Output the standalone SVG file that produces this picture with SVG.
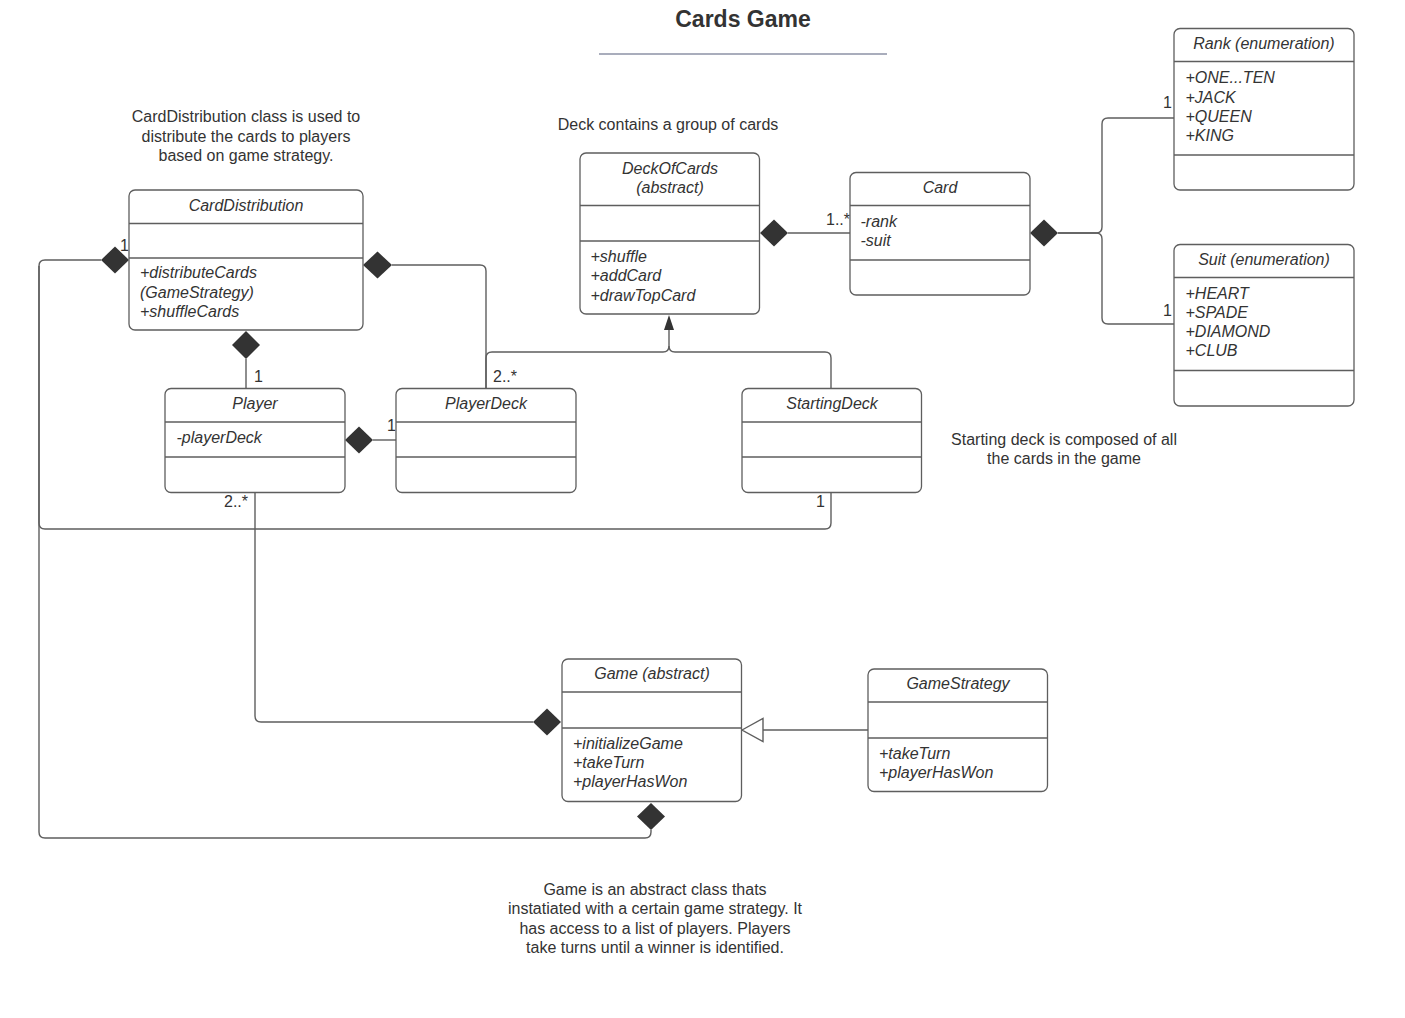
<svg xmlns="http://www.w3.org/2000/svg" width="1405" height="1018" viewBox="0 0 1405 1018">
<style>
text{font-family:"Liberation Sans",Arial,sans-serif;font-size:16px;fill:#333333}
.i{font-style:italic}
.c{text-anchor:middle}
.box{fill:#ffffff;stroke:#5e5e5e;stroke-width:1.3}
.div{stroke:#5e5e5e;stroke-width:1.3}
.ln{fill:none;stroke:#5e5e5e;stroke-width:1.4}
.dm{fill:#333333;stroke:none}
.title{font-size:23px;font-weight:bold}
</style>
<rect width="1405" height="1018" fill="#ffffff"/>
<g id="title">
<text class="c title" x="743" y="27">Cards Game</text>
<line x1="599" y1="54" x2="887" y2="54" stroke="#a9adbc" stroke-width="1.8"/>
</g>
<g id="notes">
<text class="c" x="246" y="122">CardDistribution class is used to</text>
<text class="c" x="246" y="141.5">distribute the cards to players</text>
<text class="c" x="246" y="161">based on game strategy.</text>
<text class="c" x="668" y="130">Deck contains a group of cards</text>
<text class="c" x="1064" y="444.5">Starting deck is composed of all</text>
<text class="c" x="1064" y="464">the cards in the game</text>
<text class="c" x="655" y="894.5">Game is an abstract class thats</text>
<text class="c" x="655" y="914">instatiated with a certain game strategy. It</text>
<text class="c" x="655" y="933.5">has access to a list of players. Players</text>
<text class="c" x="655" y="953">take turns until a winner is identified.</text>
</g>
<g id="connectors">
<path class="ln" d="M101,260 H45 Q39,260 39,266 V523 Q39,529 45,529 H825 Q831,529 831,523 V492"/>
<path class="ln" d="M651,830 V832 Q651,838 645,838 H45 Q39,838 39,832 V266"/>
<path class="ln" d="M246,359 V388"/>
<path class="ln" d="M392,265 H480 Q486,265 486,271 V388"/>
<path class="ln" d="M486,388 V358 Q486,352 492,352 H663 Q669,352 669,346 V330"/>
<path class="ln" d="M831,388 V358 Q831,352 825,352 H675 Q669,352 669,346"/>
<polygon class="dm" points="669,315 674,330 664,330"/>
<path class="ln" d="M373,440 H396"/>
<path class="ln" d="M788,233 H850"/>
<path class="ln" d="M1058,233 H1096 Q1102,233 1102,227 V124 Q1102,118 1108,118 H1174"/>
<path class="ln" d="M1058,233 H1096 Q1102,233 1102,239 V318 Q1102,324 1108,324 H1174"/>
<path class="ln" d="M255,492 V716 Q255,722 261,722 H533"/>
<path class="ln" d="M868,730 H763"/>
<polygon points="742,730 763,718.5 763,741.5" fill="#ffffff" stroke="#5e5e5e" stroke-width="1.4"/>
<polygon class="dm" points="101,260 115,246.5 129,260 115,273.5"/>
<polygon class="dm" points="363,265 377.5,251.5 392,265 377.5,278.5"/>
<polygon class="dm" points="246,331 260,345 246,359 232,345"/>
<polygon class="dm" points="345,440 359,426.5 373,440 359,453.5"/>
<polygon class="dm" points="760,233 774,219.5 788,233 774,246.5"/>
<polygon class="dm" points="1030,233 1044,219.5 1058,233 1044,246.5"/>
<polygon class="dm" points="533,722 547,708.5 561,722 547,735.5"/>
<polygon class="dm" points="651,803 665,816.5 651,830 637,816.5"/>
<text x="120" y="250.5">1</text>
<text x="254" y="381.5">1</text>
<text x="493" y="381.5">2..*</text>
<text x="387" y="430.5">1</text>
<text x="224" y="506.5">2..*</text>
<text x="816" y="506.5">1</text>
<text x="826" y="224.5">1..*</text>
<text x="1163" y="108">1</text>
<text x="1163" y="315.5">1</text>
</g>
<g id="CardDistribution">
<rect class="box" x="129" y="190" width="234" height="140" rx="6"/>
<line class="div" x1="129" y1="223.5" x2="363" y2="223.5"/>
<line class="div" x1="129" y1="258" x2="363" y2="258"/>
<text class="i c" x="246" y="210.5">CardDistribution</text>
<text class="i" x="140" y="278">+distributeCards</text>
<text class="i" x="140" y="297.5">(GameStrategy)</text>
<text class="i" x="140" y="316.5">+shuffleCards</text>
</g>
<g id="DeckOfCards">
<rect class="box" x="580" y="153" width="179.5" height="161" rx="6"/>
<line class="div" x1="580" y1="205.5" x2="759.5" y2="205.5"/>
<line class="div" x1="580" y1="241" x2="759.5" y2="241"/>
<text class="i c" x="670" y="173.5">DeckOfCards</text>
<text class="i c" x="670" y="192.5">(abstract)</text>
<text class="i" x="590.5" y="262">+shuffle</text>
<text class="i" x="590.5" y="281">+addCard</text>
<text class="i" x="590.5" y="300.5">+drawTopCard</text>
</g>
<g id="Card">
<rect class="box" x="850" y="172.5" width="180" height="122.5" rx="6"/>
<line class="div" x1="850" y1="205.5" x2="1030" y2="205.5"/>
<line class="div" x1="850" y1="260" x2="1030" y2="260"/>
<text class="i c" x="940" y="192.5">Card</text>
<text class="i" x="860.5" y="227">-rank</text>
<text class="i" x="860.5" y="246">-suit</text>
</g>
<g id="Rank">
<rect class="box" x="1174" y="28.5" width="180" height="161.5" rx="6"/>
<line class="div" x1="1174" y1="61.5" x2="1354" y2="61.5"/>
<line class="div" x1="1174" y1="155" x2="1354" y2="155"/>
<text class="i c" x="1264" y="49">Rank (enumeration)</text>
<text class="i" x="1185.5" y="83">+ONE...TEN</text>
<text class="i" x="1185.5" y="102.5">+JACK</text>
<text class="i" x="1185.5" y="121.5">+QUEEN</text>
<text class="i" x="1185.5" y="140.5">+KING</text>
</g>
<g id="Suit">
<rect class="box" x="1174" y="244.5" width="180" height="161.5" rx="6"/>
<line class="div" x1="1174" y1="277.5" x2="1354" y2="277.5"/>
<line class="div" x1="1174" y1="370.5" x2="1354" y2="370.5"/>
<text class="i c" x="1264" y="265">Suit (enumeration)</text>
<text class="i" x="1185.5" y="298.5">+HEART</text>
<text class="i" x="1185.5" y="317.5">+SPADE</text>
<text class="i" x="1185.5" y="337">+DIAMOND</text>
<text class="i" x="1185.5" y="356">+CLUB</text>
</g>
<g id="Player">
<rect class="box" x="165" y="388.5" width="180" height="104" rx="6"/>
<line class="div" x1="165" y1="422" x2="345" y2="422"/>
<line class="div" x1="165" y1="457" x2="345" y2="457"/>
<text class="i c" x="255" y="409">Player</text>
<text class="i" x="176.5" y="443">-playerDeck</text>
</g>
<g id="PlayerDeck">
<rect class="box" x="396" y="388.5" width="180" height="104" rx="6"/>
<line class="div" x1="396" y1="422" x2="576" y2="422"/>
<line class="div" x1="396" y1="457" x2="576" y2="457"/>
<text class="i c" x="486" y="409">PlayerDeck</text>
</g>
<g id="StartingDeck">
<rect class="box" x="742" y="388.5" width="179.5" height="104" rx="6"/>
<line class="div" x1="742" y1="422" x2="921.5" y2="422"/>
<line class="div" x1="742" y1="457" x2="921.5" y2="457"/>
<text class="i c" x="832" y="409">StartingDeck</text>
</g>
<g id="Game">
<rect class="box" x="562" y="659" width="179.5" height="142.5" rx="6"/>
<line class="div" x1="562" y1="692" x2="741.5" y2="692"/>
<line class="div" x1="562" y1="728" x2="741.5" y2="728"/>
<text class="i c" x="652" y="679">Game (abstract)</text>
<text class="i" x="573" y="748.5">+initializeGame</text>
<text class="i" x="573" y="767.5">+takeTurn</text>
<text class="i" x="573" y="787">+playerHasWon</text>
</g>
<g id="GameStrategy">
<rect class="box" x="868" y="669" width="179.5" height="122.5" rx="6"/>
<line class="div" x1="868" y1="702" x2="1047.5" y2="702"/>
<line class="div" x1="868" y1="738" x2="1047.5" y2="738"/>
<text class="i c" x="958" y="689">GameStrategy</text>
<text class="i" x="879" y="758.5">+takeTurn</text>
<text class="i" x="879" y="778">+playerHasWon</text>
</g>
</svg>
